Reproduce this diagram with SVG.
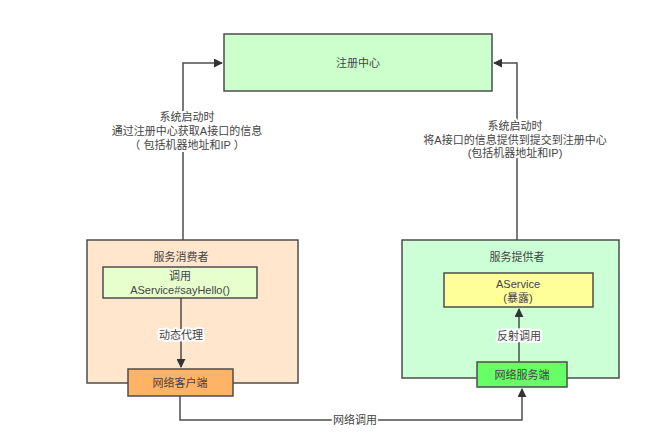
<svg xmlns="http://www.w3.org/2000/svg" width="661" height="445" viewBox="0 0 661 445">
<defs>
<style>
.box{stroke:#4d4d4d;stroke-width:1.5}
.t{font-family:"Liberation Sans","Noto Sans CJK SC",sans-serif;font-size:11px;fill:#444;text-anchor:middle;dominant-baseline:central}
.lbl{paint-order:stroke;stroke:#fff;stroke-width:4px;stroke-linejoin:round}
.c{fill:none;stroke:#4d4d4d;stroke-width:1.5}
</style>
<marker id="ah" viewBox="0 0 10 10" refX="9" refY="5" markerWidth="9" markerHeight="9" orient="auto" markerUnits="userSpaceOnUse">
<path d="M0,0 L10,5 L0,10 z" fill="#333"/>
</marker>
</defs>
<rect width="661" height="445" fill="#fff"/>
<g id="registry">
<rect class="box" x="224" y="34" width="268" height="57" fill="#ccffcc"/>
<text class="t" x="358" y="63">注册中心</text>
</g>
<g id="consumer">
<rect class="box" x="87" y="240" width="211" height="143" fill="#ffe6cc"/>
<text class="t" x="181" y="257">服务消费者</text>
</g>
<g id="provider">
<rect class="box" x="402" y="240" width="217" height="138" fill="#ccffd6"/>
<text class="t" x="517" y="257">服务提供者</text>
</g>
<g id="connectors">
<path class="c" d="M183,240 V63 H222" marker-end="url(#ah)"/>
<path class="c" d="M517,240 V63 H494" marker-end="url(#ah)"/>
<path class="c" d="M181,298 V367" marker-end="url(#ah)"/>
<path class="c" d="M519,362 V309" marker-end="url(#ah)"/>
<path class="c" d="M180,396 V420 H522 V389" marker-end="url(#ah)"/>
<text class="t lbl" x="187" y="117">系统启动时</text>
<text class="t lbl" x="187" y="131">通过注册中心获取A接口的信息</text>
<text class="t lbl" x="187" y="145">（ 包括机器地址和IP ）</text>
<text class="t lbl" x="515" y="126">系统启动时</text>
<text class="t lbl" x="515" y="140">将A接口的信息提供到提交到注册中心</text>
<text class="t lbl" x="515" y="153">(包括机器地址和IP)</text>
<text class="t lbl" x="181" y="335">动态代理</text>
<text class="t lbl" x="519" y="336">反射调用</text>
<text class="t lbl" x="355" y="420">网络调用</text>
</g>
<g id="call">
<rect class="box" x="103" y="267" width="154" height="31" fill="#e6ffcc"/>
<text class="t" x="180" y="276">调用</text>
<text class="t" x="180" y="290">AService#sayHello()</text>
</g>
<g id="client">
<rect class="box" x="128" y="369" width="105" height="27" fill="#ffb366"/>
<text class="t" x="180" y="383">网络客户端</text>
</g>
<g id="aservice">
<rect class="box" x="444" y="273" width="149" height="34" fill="#ffff99"/>
<text class="t" x="518" y="284">AService</text>
<text class="t" x="518" y="298">(暴露)</text>
</g>
<g id="server">
<rect class="box" x="477" y="362" width="90" height="25" fill="#66ff66"/>
<text class="t" x="522" y="375">网络服务端</text>
</g>
</svg>
